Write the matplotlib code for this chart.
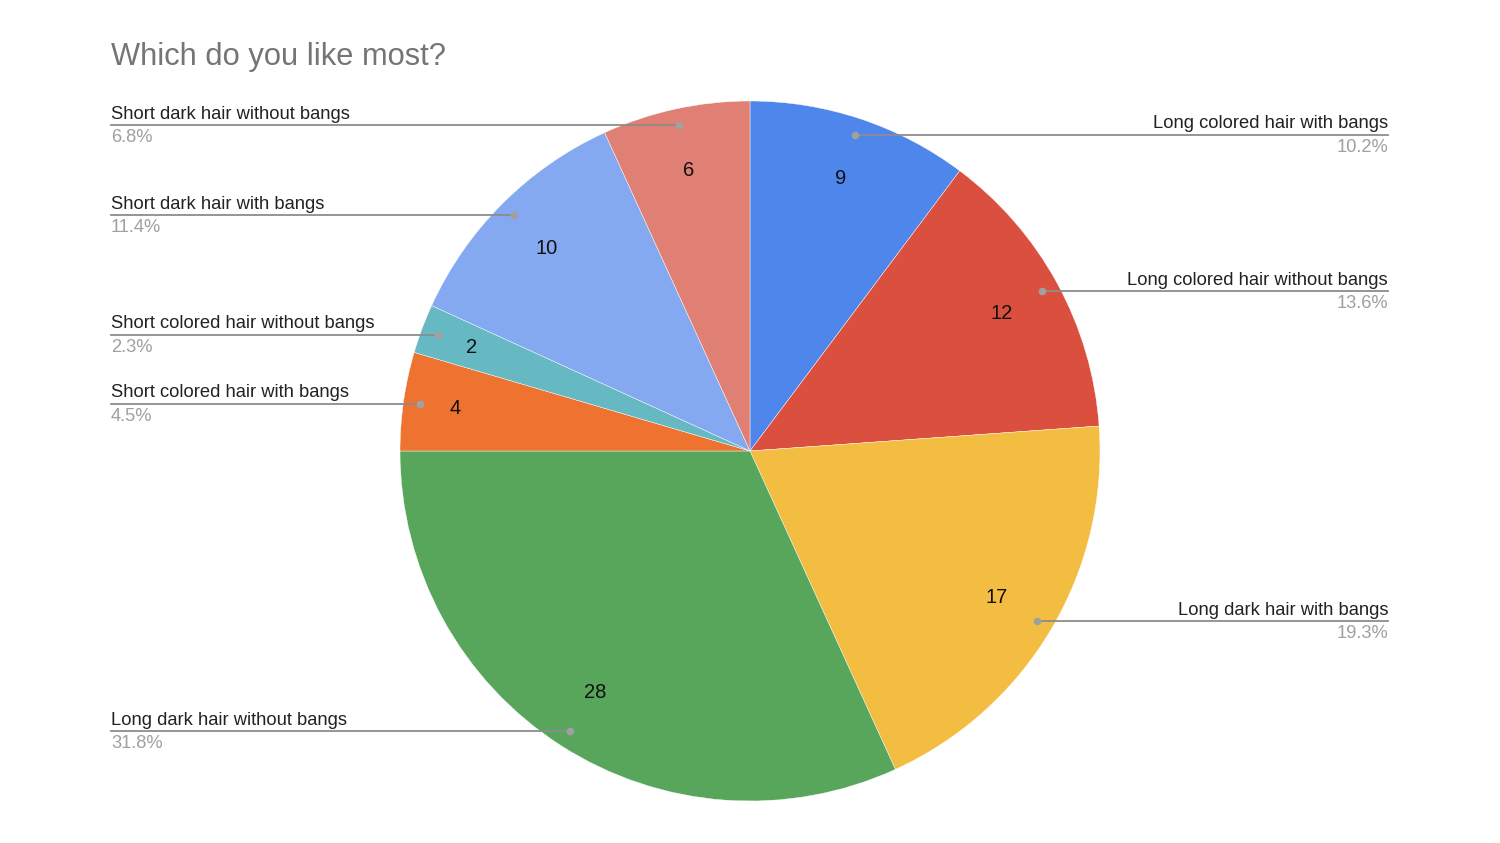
import numpy as np
import matplotlib
matplotlib.use("Agg")
import matplotlib.pyplot as plt

plt.rcParams['font.family'] = ['Liberation Sans', 'DejaVu Sans']

# Slices in drawing order (clockwise from 12 o'clock)
labels = [
    "Long colored hair with bangs",
    "Long colored hair without bangs",
    "Long dark hair with bangs",
    "Long dark hair without bangs",
    "Short colored hair with bangs",
    "Short colored hair without bangs",
    "Short dark hair with bangs",
    "Short dark hair without bangs",
]
values = [9, 12, 17, 28, 4, 2, 10, 6]
colors = ["#4f86ec", "#db4f3f", "#f3bd41", "#58a65c",
          "#ee7330", "#66b9c2", "#85a9f1", "#e07f73"]

W, H = 1500, 843
CX, CY, R = 750, H - 451, 350
LEFT_X, RIGHT_X = 111, 1388

fig = plt.figure(figsize=(15, 8.43), dpi=100)
ax = fig.add_axes([0, 0, 1, 1])

wedges, _ = ax.pie(values, colors=colors, startangle=90, counterclock=False,
                   center=(CX, CY), radius=R, frame=True,
                   wedgeprops=dict(edgecolor='white', linewidth=0.3))
ax.set_xlim(0, W)
ax.set_ylim(0, H)
ax.set_aspect('equal')
ax.axis('off')

total = sum(values)
for w, lab, v in zip(wedges, labels, values):
    mid = np.deg2rad((w.theta1 + w.theta2) / 2)
    # value label inside slice
    rr = 0.82 * R if v >= 6 else 0.85 * R
    tx = CX + rr * np.cos(mid)
    ty = CY + rr * np.sin(mid)
    ax.text(tx, ty, str(v), fontsize=14.5, color='#111111',
            ha='center', va='center')
    # leader dot and line
    dx = CX + 0.952 * R * np.cos(mid)
    dy = CY + 0.952 * R * np.sin(mid)
    right = np.cos(mid) > 0
    ex = RIGHT_X if right else LEFT_X
    ax.plot([dx, ex], [dy, dy], color='#8c8c8c', lw=1.3, zorder=3)
    ax.plot(dx, dy, 'o', color='#a0a0a0', ms=4.5, zorder=4)
    ha = 'right' if right else 'left'
    ax.text(ex, dy + 2.5, lab, fontsize=13.2, color='#222222', ha=ha, va='bottom')
    ax.text(ex, dy - 4, f"{v / total * 100:.1f}%", fontsize=13.2,
            color='#a0a0a0', ha=ha, va='top')

fig.text(111 / W, 1 - 57 / H, "Which do you like most?", fontsize=22.2,
         color='#757575', ha='left', va='center')

fig.savefig("out.png", dpi=100, facecolor='white')
